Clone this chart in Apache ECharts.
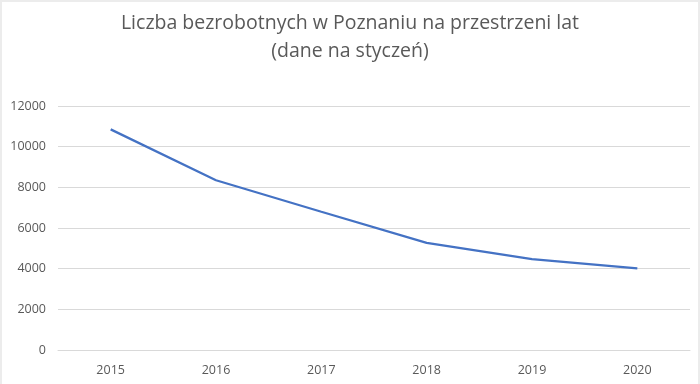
<!DOCTYPE html>
<html><head><meta charset="utf-8">
<script src="https://cdn.jsdelivr.net/npm/echarts@6/dist/echarts.min.js"></script>
<style>html,body{margin:0;padding:0;background:#fff}#c{width:700px;height:384px}
#b{position:absolute;left:0;top:0;width:696px;height:390px;border:2px solid #ececec;pointer-events:none}</style>
</head><body><div id="c"></div><div id="b"></div>
<script>
const categories = ['2015','2016','2017','2018','2019','2020'];
const values = [10850, 8350, 6800, 5270, 4470, 4010];
const yTicks = [0, 2000, 4000, 6000, 8000, 10000, 12000];

const chart = echarts.init(document.getElementById('c'));
chart.setOption({
  animation: false,
  title: {
    text: 'Liczba bezrobotnych w Poznaniu na przestrzeni lat\n(dane na styczeń)',
    left: 'center', top: 4,
    textStyle: { fontFamily: 'Open Sans', fontSize: 19.5, fontWeight: 'normal', color: '#595959', lineHeight: 28 }
  },
  grid: { left: 58, right: 10, top: 106, bottom: 34 },
  xAxis: {
    type: 'category', data: categories, boundaryGap: true,
    axisLine: { lineStyle: { color: '#d9d9d9' } },
    axisTick: { show: false },
    axisLabel: { color: '#595959', fontFamily: 'Open Sans', fontSize: 12.5, margin: 14 }
  },
  yAxis: {
    type: 'value', min: yTicks[0], max: yTicks[yTicks.length-1], interval: 2000,
    axisLine: { show: false }, axisTick: { show: false },
    splitLine: { lineStyle: { color: '#d9d9d9' } },
    axisLabel: { color: '#595959', fontFamily: 'Open Sans', fontSize: 12.5, margin: 12,
      formatter: v => String(v) }
  },
  series: [{
    type: 'line', data: values, symbol: 'none',
    lineStyle: { color: '#4472C4', width: 2.25 }
  }]
});
</script></body></html>
